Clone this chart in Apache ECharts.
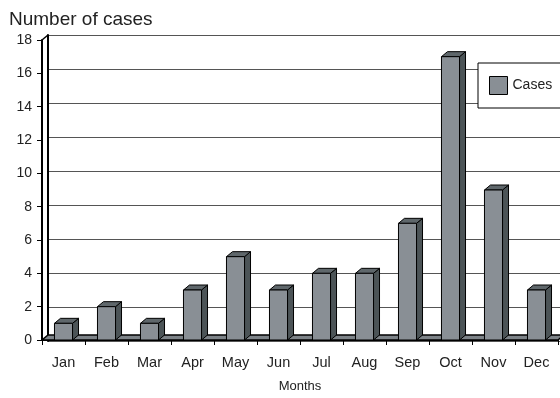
<!DOCTYPE html>
<html>
<head>
<meta charset="utf-8">
<script src="https://cdn.jsdelivr.net/npm/echarts@6/dist/echarts.min.js"></script>
<style>html,body{margin:0;padding:0;background:#fff}#c{width:560px;height:398px}</style>
</head>
<body>
<div id="c"></div>
<script>
var months = ['Jan','Feb','Mar','Apr','May','Jun','Jul','Aug','Sep','Oct','Nov','Dec'];
var cases = [1, 2, 1, 3, 5, 3, 4, 4, 7, 17, 9, 3];
var yTicks = [0, 2, 4, 6, 8, 10, 12, 14, 16, 18];

var DX = 6, DY = 5;
var FRONT = '#898f95', SIDE = '#4c5457', TOP = '#5f676b', FLOOR = '#7d8388';
var FONT = 'Liberation Sans';

var chart = echarts.init(document.getElementById('c'), null, {renderer: 'canvas'});

function floorItem(params, api) {
  var bw = api.size([1, 0])[0];
  var a = api.coord([0, 0]);
  var b = api.coord([months.length - 1, 0]);
  var t = api.coord([0, yTicks[yTicks.length - 1]]);
  var xl = a[0] - bw / 2, xr = b[0] + bw / 2, y0 = a[1];
  return {
    type: 'group',
    children: [
      {type: 'polygon', shape: {points: [[xl, y0], [xr, y0], [xr + DX, y0 - DY], [xl + DX, y0 - DY]]},
       style: {fill: FLOOR, stroke: '#000', lineWidth: 1.5}},
      {type: 'line', shape: {x1: xl, y1: t[1], x2: xl + DX, y2: t[1] - DY},
       style: {stroke: '#000', lineWidth: 1.5}}
    ]
  };
}

function barItem(params, api) {
  var i = api.value(0), v = api.value(1);
  var bw = api.size([1, 0])[0];
  var w = bw * 0.42;
  var p0 = api.coord([i, 0]), p1 = api.coord([i, v]);
  var xl = p0[0] - w / 2, xr = p0[0] + w / 2, yb = p0[1], yt = p1[1];
  var st = {stroke: '#000', lineWidth: 1};
  return {
    type: 'group',
    children: [
      {type: 'polygon', shape: {points: [[xr, yt], [xr + DX, yt - DY], [xr + DX, yb - DY], [xr, yb]]},
       style: Object.assign({fill: SIDE}, st)},
      {type: 'polygon', shape: {points: [[xl, yt], [xl + DX, yt - DY], [xr + DX, yt - DY], [xr, yt]]},
       style: Object.assign({fill: TOP}, st)},
      {type: 'rect', shape: {x: xl, y: yt, width: w, height: yb - yt},
       style: Object.assign({fill: FRONT}, st)}
    ]
  };
}

var option = {
  animation: false,
  backgroundColor: '#fff',
  textStyle: {fontFamily: FONT},
  title: {
    text: 'Number of cases', left: 4, top: 5,
    textStyle: {fontFamily: FONT, fontSize: 19, fontWeight: 'normal', color: '#222'}
  },
  legend: {
    data: ['Cases'], left: 478, top: 63,
    orient: 'vertical',
    icon: 'rect', itemWidth: 18, itemHeight: 18,
    itemStyle: {color: FRONT, borderColor: '#000', borderWidth: 1},
    backgroundColor: '#fff', borderColor: '#000', borderWidth: 1,
    padding: [13, 40, 13, 11],
    textStyle: {fontFamily: FONT, fontSize: 14, color: '#222'}
  },
  grid: [
    {left: 42, right: 2, top: 40, bottom: 52},
    {left: 48, right: -4, top: 35, bottom: 57}
  ],
  xAxis: [
    {type: 'category', gridIndex: 0, data: months, boundaryGap: true,
     axisLine: {show: true, lineStyle: {color: '#000', width: 2}},
     axisTick: {show: true, length: 5, lineStyle: {color: '#000', width: 1}},
     axisLabel: {fontFamily: FONT, fontSize: 14.5, color: '#222', margin: 15},
     name: 'Months', nameLocation: 'middle', nameGap: 40,
     nameTextStyle: {fontFamily: FONT, fontSize: 13, color: '#222'}},
    {type: 'category', gridIndex: 1, data: months, show: false}
  ],
  yAxis: [
    {type: 'value', gridIndex: 0, min: 0, max: 18, interval: 2,
     axisLine: {show: true, lineStyle: {color: '#000', width: 2}},
     axisTick: {show: true, length: 5, lineStyle: {color: '#000', width: 1}},
     axisLabel: {fontFamily: FONT, fontSize: 14, color: '#222', margin: 10},
     splitLine: {show: false}},
    {type: 'value', gridIndex: 1, min: 0, max: 18, interval: 2,
     axisLine: {show: true, lineStyle: {color: '#000', width: 2}},
     axisTick: {show: false}, axisLabel: {show: false},
     splitLine: {show: true, lineStyle: {color: '#555', width: 1}}}
  ],
  series: [
    {type: 'custom', name: 'floor', xAxisIndex: 0, yAxisIndex: 0, z: 1,
     data: [[0, 0]], renderItem: floorItem, silent: true},
    {type: 'custom', name: 'Cases', xAxisIndex: 0, yAxisIndex: 0, z: 3,
     itemStyle: {color: FRONT},
     encode: {x: 0, y: 1},
     data: months.map(function (m, i) { return [i, cases[i]]; }),
     renderItem: barItem}
  ]
};
chart.setOption(option);
</script>
</body>
</html>
